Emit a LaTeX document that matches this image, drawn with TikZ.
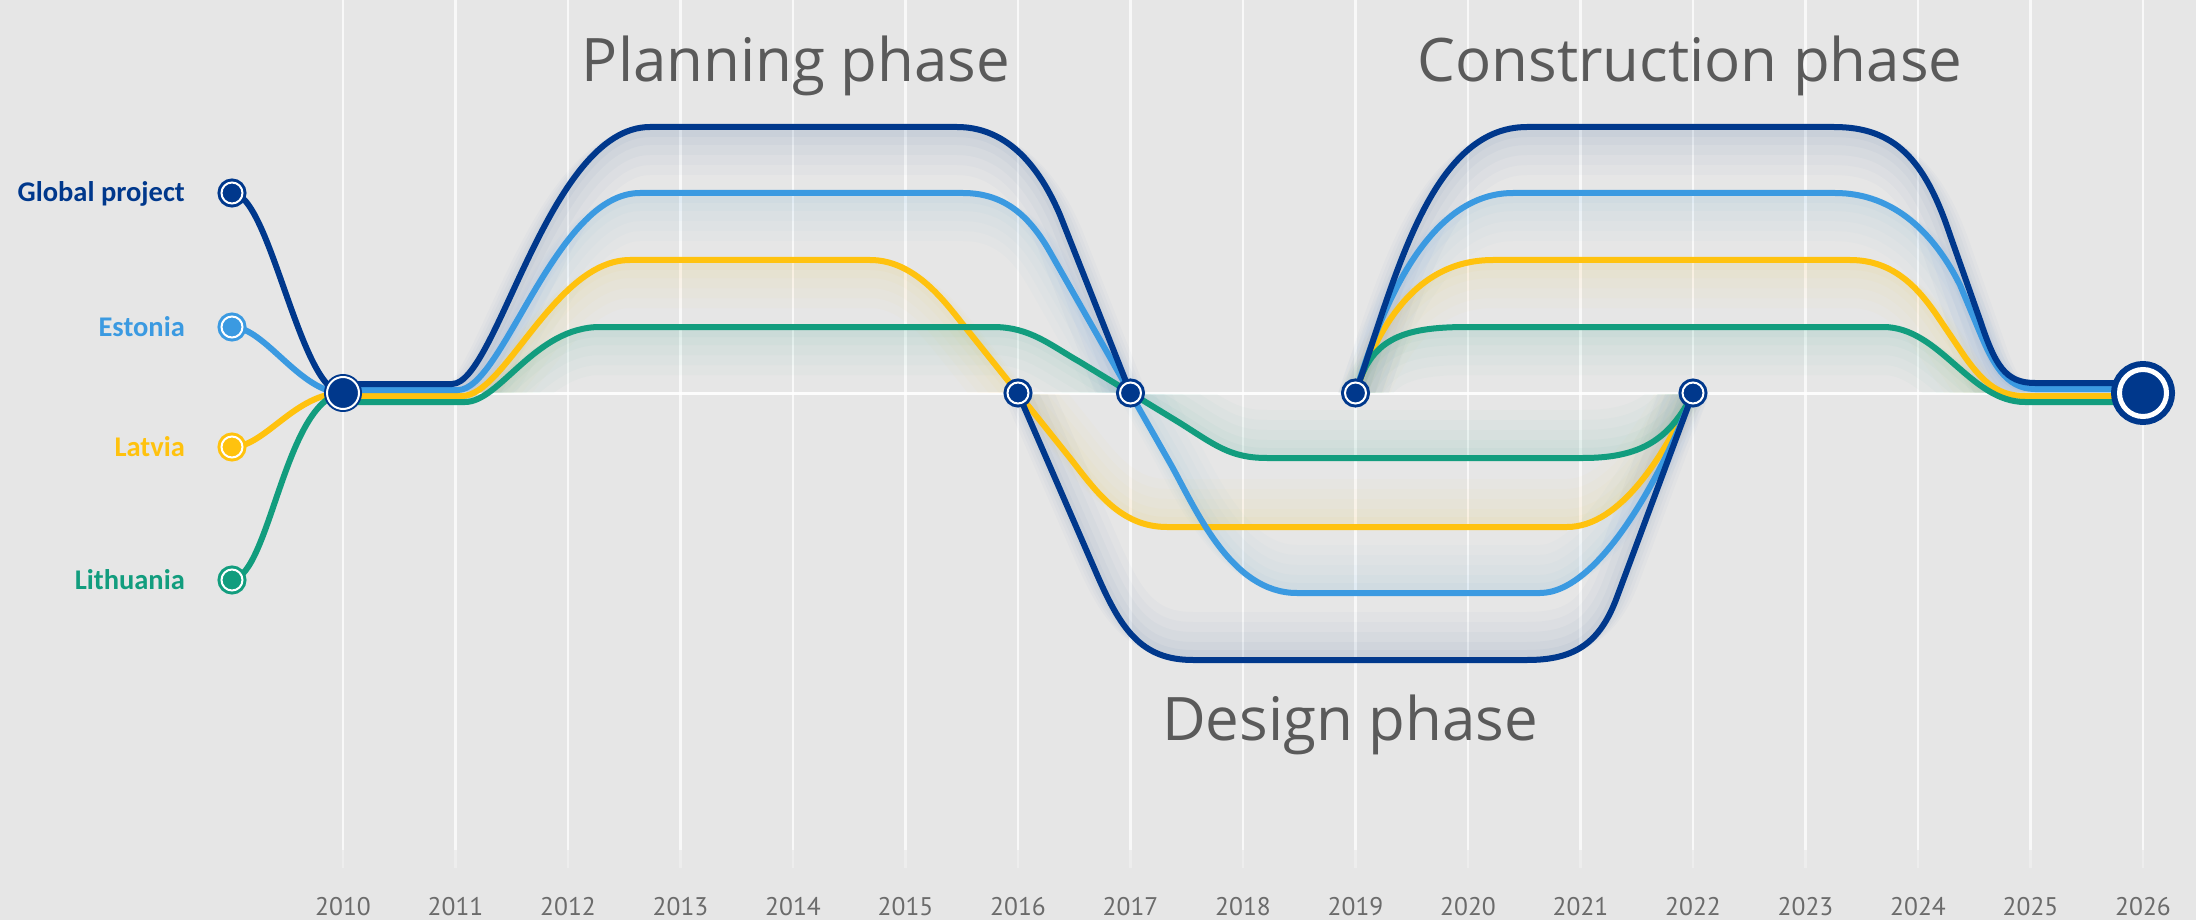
\documentclass[tikz,border=0pt]{standalone}
\usepackage{fontspec}
\setmainfont{Open Sans}
\newfontfamily\labfont{Carlito}
\newfontfamily\yearfont{PT Sans}
\definecolor{bgc}{HTML}{E6E6E6}
\definecolor{dkb}{HTML}{00388C}
\definecolor{ltb}{HTML}{3B9AE1}
\definecolor{ylw}{HTML}{FFC20E}
\definecolor{grn}{HTML}{129D7E}
\definecolor{ttl}{HTML}{5A5A5A}
\definecolor{yrc}{HTML}{6B6B6B}
\tikzset{
  ln/.style={line width=6pt, line cap=round, line join=round},
  glowln/.style={line cap=round, line join=round},
  gridln/.style={draw=white, line width=2.5pt, opacity=0.75},
  dotnode/.style={circle, inner sep=0pt, minimum size=21pt, fill=#1, draw=white, line width=2pt, preaction={draw=#1, line width=8pt}},
  startnode/.style={circle, inner sep=0pt, minimum size=32pt, fill=dkb, draw=white, line width=2pt, preaction={draw=dkb, line width=6pt}},
  endnode/.style={circle, inner sep=0pt, minimum size=47pt, fill=dkb, draw=white, line width=5pt, preaction={draw=dkb, line width=17pt}},
  lab/.style={anchor=base east, inner sep=0pt, font=\labfont\bfseries\fontsize{28.5}{30}\selectfont},
  ttlt/.style={anchor=base, inner sep=0pt, text=ttl, font=\fontsize{60}{70}\selectfont},
  yeart/.style={anchor=base, inner sep=0pt, text=yrc, font=\yearfont\fontsize{25.5}{28}\selectfont},
}
% main paths
\def\darkA{(343,384) -- (452,384) .. controls (497,384) and (548,127) .. (650,127) -- (957,127) .. controls (1015,127) and (1045,180) .. (1060,215) -- (1130.5,393)}
\def\darkB{(1018,393) -- (1095,570) .. controls (1120,628) and (1140,660) .. (1193,660) -- (1527,660) .. controls (1575,660) and (1600,643) .. (1617,597) -- (1693,393)}
\def\darkC{(1355.5,393) .. controls (1395,280) and (1430,127) .. (1527,127) -- (1834,127) .. controls (1895,127) and (1925,160) .. (1950,235) -- (1980,320) .. controls (1995,365) and (2005,383) .. (2035,383) -- (2143,383)}
\def\bluA{(343,390) -- (458,390) .. controls (503,390) and (555,193) .. (640,193) -- (963,193) .. controls (1005,193) and (1030,217) .. (1050,252) -- (1170,463) .. controls (1195,507) and (1230,593) .. (1297,593) -- (1540,593) .. controls (1600,593) and (1665,470) .. (1693,393)}
\def\bluC{(1355.5,393) .. controls (1375,330) and (1420,193) .. (1513,193) -- (1835,193) .. controls (1895,193) and (1935,235) .. (1960,285) -- (1978,328) .. controls (1992,362) and (2005,389) .. (2035,389) -- (2143,389)}
\def\ylwA{(343,396) -- (462,396) .. controls (505,396) and (555,260) .. (630,260) -- (870,260) .. controls (915,260) and (945,302) .. (965,327) -- (1070,458) .. controls (1095,490) and (1120,527) .. (1167,527) -- (1567,527) .. controls (1620,527) and (1665,455) .. (1693,393)}
\def\ylwC{(1355.5,393) .. controls (1380,320) and (1420,260) .. (1493,260) -- (1850,260) .. controls (1895,260) and (1920,290) .. (1940,320) -- (1965,357) .. controls (1985,385) and (2000,396) .. (2025,396) -- (2143,396)}
\def\grnA{(343,402) -- (465,402) .. controls (500,402) and (535,327) .. (600,327) -- (993,327) .. controls (1030,327) and (1050,345) .. (1080,362) -- (1180,423) .. controls (1215,445) and (1230,458) .. (1267,458) -- (1583,458) .. controls (1640,458) and (1670,440) .. (1693,393)}
\def\grnC{(1355.5,393) .. controls (1370,340) and (1400,327) .. (1467,327) -- (1883,327) .. controls (1940,327) and (1970,402) .. (2025,402) -- (2143,402)}
\begin{document}
\begin{tikzpicture}[x=1pt,y=-1pt]
\useasboundingbox (0,0) rectangle (2196,920);
\fill[bgc] (0,0) rectangle (2196,920);
% grid
\foreach \i in {0,...,16}{
  \draw[gridln] ({343+112.5*\i},0) -- ({343+112.5*\i},850);
  \draw[gridln, opacity=0.3] ({343+112.5*\i},850) -- ({343+112.5*\i},868);
}
\draw[draw=white, line width=3pt, opacity=0.9] (343,393) -- (2143,393);
% positions
\coordinate (pStart) at (343,393);
\coordinate (pEnd) at (2143,393);
\coordinate (p16) at (1018,393);
\coordinate (p17) at (1130.5,393);
\coordinate (p19) at (1355.5,393);
\coordinate (p22) at (1693,393);
\coordinate (pGlobal) at (232,193);
\coordinate (pEst) at (232,327);
\coordinate (pLat) at (232,447);
\coordinate (pLit) at (232,580);
% soft glows above the centre line
\begin{scope}
  \clip (0,0) rectangle (2196,392);
  \foreach \c/\p in {dkb/\darkA, dkb/\darkC, ltb/\bluA, ltb/\bluC, ylw/\ylwA, ylw/\ylwC, grn/\grnA, grn/\grnC}{
    \foreach \w/\s/\o in {48/24/0.018, 38/19/0.02, 28/14/0.024, 18/9/0.028, 10/5/0.03}{
      \draw[glowln, draw=\c, line width=\w pt, opacity=\o, shift={(0,\s)}] \p;
    }
  }
\end{scope}
% soft glows below the centre line
\begin{scope}
  \clip (0,394) rectangle (2196,920);
  \foreach \c/\p in {dkb/\darkB, ltb/\bluA, ylw/\ylwA, grn/\grnA}{
    \foreach \w/\s/\o in {48/24/0.018, 38/19/0.02, 28/14/0.024, 18/9/0.028, 10/5/0.03}{
      \draw[glowln, draw=\c, line width=\w pt, opacity=\o, shift={(0,-\s)}] \p;
    }
  }
\end{scope}
% lines
\draw[ln, ylw] (pLat) .. controls (265,447) and (295,393) .. (pStart);
\draw[ln, grn] (pLit) .. controls (270,575) and (285,400) .. (pStart);
\draw[ln, ltb] (pEst) .. controls (265,327) and (300,393) .. (pStart);
\draw[ln, dkb] (pGlobal) .. controls (270,193) and (300,393) .. (pStart);
\draw[ln, ylw] \ylwA;
\draw[ln, ylw] \ylwC;
\draw[ln, grn] \grnA;
\draw[ln, grn] \grnC;
\draw[ln, ltb] \bluA;
\draw[ln, ltb] \bluC;
\draw[ln, dkb] \darkA;
\draw[ln, dkb] \darkB;
\draw[ln, dkb] \darkC;
% nodes
\node[startnode] (nStart) at (pStart) {};
\node[endnode] (nEnd) at (pEnd) {};
\node[dotnode=dkb] (n16) at (p16) {};
\node[dotnode=dkb] (n17) at (p17) {};
\node[dotnode=dkb] (n19) at (p19) {};
\node[dotnode=dkb] (n22) at (p22) {};
\node[dotnode=dkb] (nGlobal) at (pGlobal) {};
\node[dotnode=ltb] (nEst) at (pEst) {};
\node[dotnode=ylw] (nLat) at (pLat) {};
\node[dotnode=grn] (nLit) at (pLit) {};
% labels
\node[lab, text=dkb] (tGlobal) at (185,202) {Global project};
\node[lab, text=ltb] (tEst) at (185,336) {Estonia};
\node[lab, text=ylw] (tLat) at (185,456) {Latvia};
\node[lab, text=grn] (tLit) at (185,589) {Lithuania};
\node[ttlt] (tPlan) at (796,82) {Planning phase};
\node[ttlt] (tCons) at (1690,82) {Construction phase};
\node[ttlt] (tDes) at (1350,740) {Design phase};
\foreach \i in {0,...,16}{
  \pgfmathtruncatemacro{\yr}{2010+\i}
  \node[yeart] (y\i) at ({343+112.5*\i},915) {\yr};
}
\end{tikzpicture}
\end{document}
